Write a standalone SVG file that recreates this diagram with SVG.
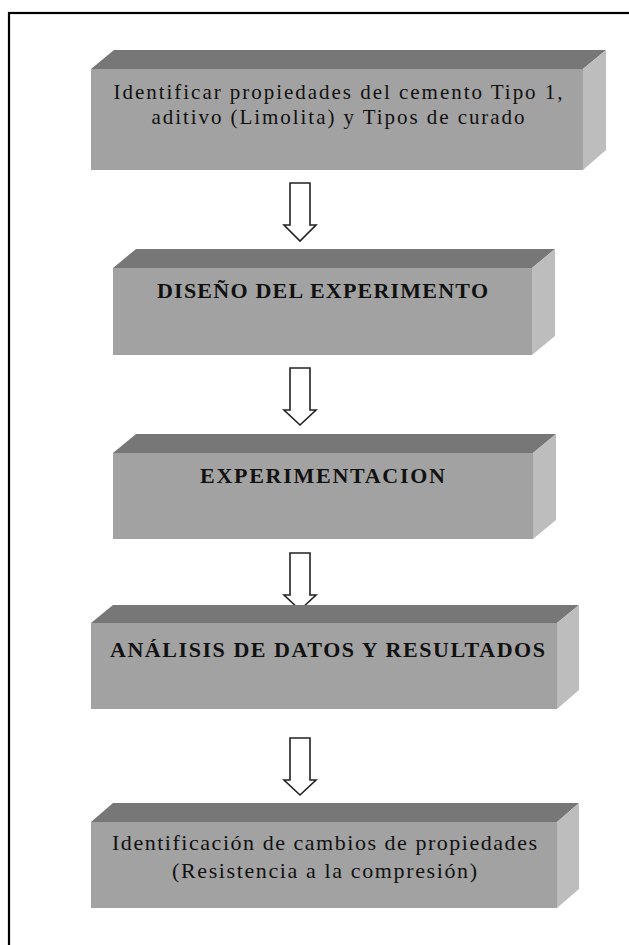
<svg xmlns="http://www.w3.org/2000/svg" width="629" height="945" viewBox="0 0 629 945">
<style>
.top{fill:#777777}
.front{fill:#a2a2a2}
.side{fill:#bdbdbd}
.t{font-family:"Liberation Serif","Times New Roman",serif;fill:#111;text-anchor:middle}
.r{font-size:21px}
.r2{font-size:22px}
.b{font-size:22px;font-weight:bold}
.arr{fill:#ffffff;stroke:#222222;stroke-width:1.6;stroke-linejoin:miter}
</style>
<rect x="0" y="0" width="629" height="945" fill="#ffffff"/>
<rect x="9" y="13" width="660" height="980" fill="none" stroke="#000" stroke-width="2.2"/>
<g id="connectors">
<path class="arr" d="M290,183 H310 V225 H316 L300,241 L284,225 H290 Z"/>
<path class="arr" d="M290,368 H310 V410 H316 L300,425 L284,410 H290 Z"/>
<path class="arr" d="M290,553 H310 V595 H316 L300,610 L284,595 H290 Z"/>
<path class="arr" d="M290,738 H310 V780 H316 L300,795 L284,780 H290 Z"/>
</g>
<g id="node1">
<polygon class="top" points="91,69 114,50 606,50 583,69"/>
<polygon class="side" points="583,69 606,50 606,150 583,170"/>
<rect class="front" x="91" y="69" width="492" height="101"/>
<text class="t r" x="338" y="99" textLength="449" lengthAdjust="spacing">Identificar propiedades del cemento  Tipo 1,</text>
<text class="t r" x="338" y="124" textLength="373" lengthAdjust="spacing">aditivo (Limolita) y Tipos de curado</text>
</g>
<g id="node2">
<polygon class="top" points="113,268 136,249 555,249 532,268"/>
<polygon class="side" points="532,268 555,249 555,336 532,355"/>
<rect class="front" x="113" y="268" width="419" height="87"/>
<text class="t b" x="322.5" y="298" textLength="331" lengthAdjust="spacing">DISEÑO DEL EXPERIMENTO</text>
</g>
<g id="node3">
<polygon class="top" points="113,453 136,434 556,434 533,453"/>
<polygon class="side" points="533,453 556,434 556,520 533,539"/>
<rect class="front" x="113" y="453" width="420" height="86"/>
<text class="t b" x="322.5" y="483" textLength="245" lengthAdjust="spacing">EXPERIMENTACION</text>
</g>
<g id="node4">
<polygon class="top" points="91,623 113,605 579,605 557,623"/>
<polygon class="side" points="557,623 579,605 579,690 557,709"/>
<rect class="front" x="91" y="623" width="466" height="86"/>
<text class="t b" x="327.5" y="657" textLength="435" lengthAdjust="spacing">ANÁLISIS DE DATOS Y RESULTADOS</text>
</g>
<g id="node5">
<polygon class="top" points="91,822 113,803 579,803 557,822"/>
<polygon class="side" points="557,822 579,803 579,889 557,908"/>
<rect class="front" x="91" y="822" width="466" height="86"/>
<text class="t r2" x="324.5" y="850" textLength="425" lengthAdjust="spacing">Identificación de cambios de propiedades</text>
<text class="t r2" x="324.5" y="878" textLength="305" lengthAdjust="spacing">(Resistencia a la compresión)</text>
</g>
</svg>
